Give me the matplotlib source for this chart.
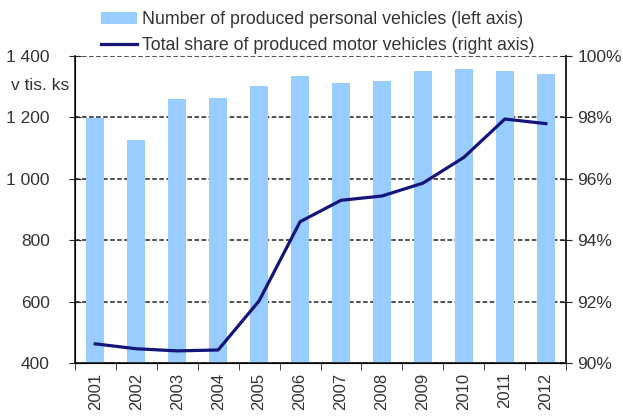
import numpy as np
import matplotlib.pyplot as plt
from matplotlib.ticker import FuncFormatter

plt.rcParams['font.family'] = ['Liberation Sans', 'DejaVu Sans']
plt.rcParams['text.color'] = '#333333'
plt.rcParams['xtick.color'] = '#333333'
plt.rcParams['ytick.color'] = '#333333'

years = ['2001', '2002', '2003', '2004', '2005', '2006',
         '2007', '2008', '2009', '2010', '2011', '2012']
# personal vehicles produced, thousands of pieces
vehicles = [1198, 1126, 1259, 1265, 1303, 1335, 1311, 1319, 1351, 1358, 1351, 1341]
# share of personal vehicles in all motor vehicles, %
share = [90.62, 90.46, 90.39, 90.42, 92.02, 94.6, 95.3, 95.44, 95.86, 96.7, 97.95, 97.8]

fig = plt.figure(figsize=(6.23, 4.19), dpi=100)
ax = fig.add_axes([0.120, 0.134, 0.789, 0.732])
x = np.arange(len(years))

ax.set_axisbelow(True)
ax.grid(axis='y', color='#222222', linestyle=(0, (3, 1.6)), linewidth=1.1)
bars = ax.bar(x, vehicles, width=0.45, color='#99ccff', zorder=2,
              label='Number of produced personal vehicles (left axis)')
ax.set_ylim(400, 1400)
ax.set_yticks(range(400, 1401, 200))
ax.yaxis.set_major_formatter(FuncFormatter(lambda v, p: f'{int(v):,}'.replace(',', ' ')))
ax.set_xlim(-0.5, len(years) - 0.5)
ax.set_xticks(x)
ax.set_xticklabels(years, rotation=90)
ax.set_xticks(np.arange(-0.5, len(years)), minor=True)
ax.tick_params(axis='x', which='major', length=0, labelsize=12, pad=7)
ax.tick_params(axis='x', which='minor', length=5, direction='out', color='#222222')
ax.tick_params(axis='y', direction='inout', length=8, labelsize=12.5, pad=14,
               color='#222222')
ax.spines['top'].set_visible(False)
for s in ['left', 'right', 'bottom']:
    ax.spines[s].set_color('#222222')
    ax.spines[s].set_linewidth(1.2)

ax2 = ax.twinx()
line, = ax2.plot(x, share, color='#14147a', linewidth=2.3,
                 label='Total share of produced motor vehicles (right axis)')
ax2.set_ylim(90, 100)
ax2.set_yticks(range(90, 101, 2))
ax2.yaxis.set_major_formatter(FuncFormatter(lambda v, p: f'{int(v)}%'))
ax2.tick_params(axis='y', direction='inout', length=8, labelsize=12.5, pad=4,
                color='#222222')
ax2.spines['top'].set_visible(False)
ax2.spines['right'].set_color('#222222')
ax2.spines['right'].set_linewidth(1.2)

fig.text(0.018, 0.785, 'v tis. ks', fontsize=12.5)

fig.legend(handles=[bars, line], loc='upper center', bbox_to_anchor=(0.51, 1.012),
           frameon=False, fontsize=12.8, handlelength=2.0, labelspacing=0.5,
           handletextpad=0.3)

fig.savefig('out.png', dpi=100)
